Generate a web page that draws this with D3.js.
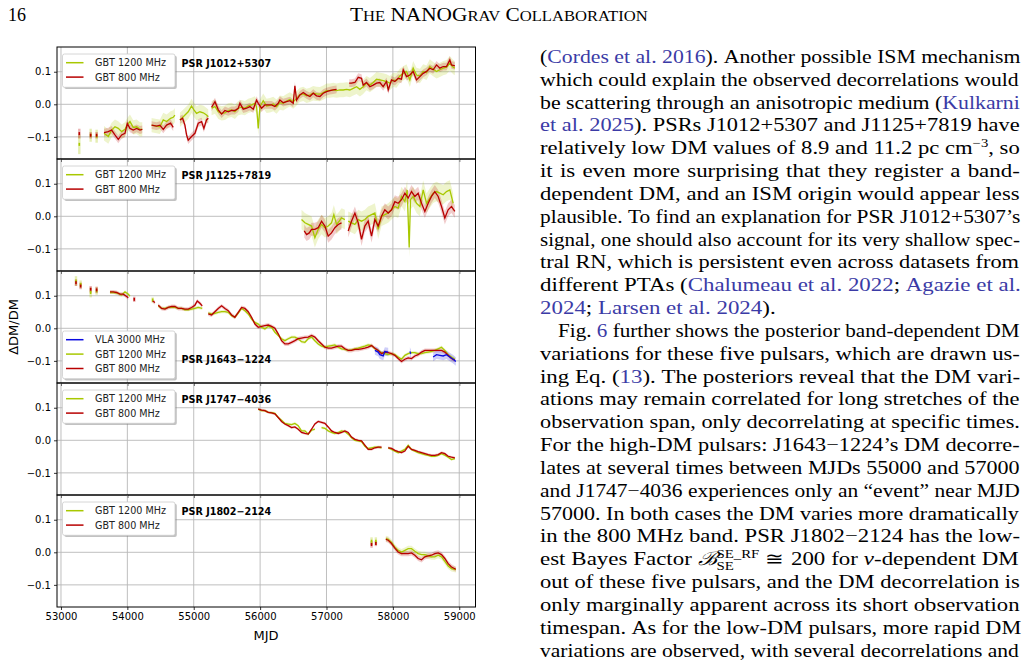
<!DOCTYPE html>
<html>
<head>
<meta charset="utf-8">
<style>
    body { margin:0; background:#fff; }
    .tick text { font-family:"DejaVu Sans", sans-serif; font-size:10px; fill:#000; }
    .tick line { stroke:#000; stroke-width:0.8; }
    .page { font-family:"Liberation Serif", serif; fill:#000; white-space:pre; }
</style>
</head>
<body>
<svg id="page" width="1029" height="670"></svg>
<script src="https://cdn.jsdelivr.net/npm/d3@7"></script>
<script>
// ---- data: [MJD, dDM/DM, (optional error)], null breaks a segment ----
var mjdTicks = [53000, 54000, 55000, 56000, 57000, 58000, 59000];
var dmTicks = [-0.1, 0.0, 0.1];

var j1012_1200 = [
 [53276,-0.123,0.03], null, [53447,-0.095,0.02], null, [53537,-0.098,0.02], null,
 [53648,-0.089],[53713,-0.099],[53763,-0.079],[53813,-0.069],[53863,-0.074],[53914,-0.084],[53964,-0.077],[53999,-0.064],[54039,-0.053],[54089,-0.071],[54140,-0.069],[54190,-0.077],[54225,-0.077], null,
 [54365,-0.064],[54440,-0.067],[54490,-0.069],[54541,-0.048],[54591,-0.053],[54651,-0.043],[54691,-0.040],[54716,-0.033], null,
 [54792,-0.048],[54842,-0.038],[54917,-0.023],[54967,-0.005],[55003,-0.017],[55043,-0.028],[55093,-0.023],[55144,-0.026],[55193,-0.033],[55219,-0.038], null,
 [55269,-0.012],[55320,-0.007],[55370,-0.023],[55420,-0.028],[55470,-0.026],[55520,-0.019],[55570,-0.017],[55620,-0.023],[55671,-0.012],[55721,-0.009],[55771,-0.012],[55821,-0.005],[55871,-0.002],[55922,0.003],[55947,-0.007],[55972,-0.074],[55997,-0.007],[56047,0.011],[56097,-0.005],[56148,-0.003],[56198,0.001],[56248,-0.007],[56298,0.005],[56348,0.003],[56399,0.010],[56449,0.015],[56499,0.008],[56549,0.018],[56599,0.029],[56650,0.032],[56700,0.026],[56750,0.029],[56800,0.034],[56850,0.032],[56901,0.031],[56951,0.036],[57001,0.042],[57051,0.042],[57101,0.044],[57152,0.042],[57202,0.044],[57252,0.044],[57302,0.046],[57352,0.044],[57403,0.049],[57453,0.054],[57503,0.046],[57553,0.054],[57603,0.065],[57654,0.059],[57704,0.067],[57754,0.077],[57804,0.075],[57854,0.073],[57905,0.070],[57955,0.065],[58005,0.075],[58055,0.073],[58105,0.087],[58156,0.095],[58206,0.101],[58256,0.075],[58306,0.111],[58356,0.090],[58407,0.087],[58457,0.101],[58507,0.097],[58557,0.116],[58607,0.108],[58658,0.101],[58708,0.106],[58758,0.111],[58808,0.114],[58858,0.126],[58909,0.114],[58934,0.111]
];
var j1012_800 = [
 [53276,-0.090,0.015], null, [53447,-0.095,0.01], null, [53537,-0.095,0.01], null,
 [53648,-0.087],[53713,-0.084],[53763,-0.079],[53813,-0.094],[53863,-0.108],[53914,-0.094],[53964,-0.089],[53999,-0.059],[54039,-0.074],[54089,-0.079],[54140,-0.074],[54190,-0.079],[54225,-0.077], null,
 [54365,-0.064],[54440,-0.067],[54490,-0.064],[54541,-0.077],[54591,-0.064],[54651,-0.058],[54691,-0.071], null,
 [54792,-0.048],[54832,-0.043],[54867,-0.064],[54892,-0.094],[54917,-0.110],[54967,-0.099],[55018,-0.089],[55068,-0.058],[55118,-0.053],[55153,-0.074],[55193,-0.048],[55219,-0.043], null,
 [55269,-0.009],[55320,0.008],[55370,-0.017],[55420,-0.030],[55470,-0.019],[55520,-0.023],[55570,-0.019],[55620,-0.019],[55671,-0.012],[55696,0.003],[55746,-0.015],[55796,-0.012],[55846,-0.007],[55897,-0.015],[55947,0.013],[55972,0.003],[56022,-0.012],[56072,-0.002],[56122,-0.002],[56173,-0.002],[56223,-0.007],[56273,0.003],[56298,0.013],[56348,0.005],[56399,0.008],[56449,0.011],[56499,0.003],[56524,0.057],[56549,0.013],[56599,0.029],[56650,0.036],[56700,0.029],[56750,0.024],[56800,0.034],[56850,0.026],[56901,0.024],[56951,0.034],[57001,0.039],[57051,0.042],[57101,0.044],[57152,0.046], null,
 [57342,0.065],[57377,0.065],[57428,0.067],[57478,0.083],[57528,0.080],[57553,0.059],[57603,0.067],[57654,0.054],[57704,0.059],[57754,0.065],[57804,0.067],[57854,0.054],[57905,0.070],[57930,0.044],[57980,0.075],[58030,0.070],[58080,0.080],[58130,0.077],[58156,0.106],[58206,0.085],[58256,0.090],[58306,0.101],[58356,0.075],[58407,0.085],[58457,0.095],[58507,0.101],[58557,0.111],[58607,0.106],[58658,0.121],[58708,0.111],[58758,0.116],[58808,0.116],[58858,0.136],[58883,0.121],[58934,0.118]
];

var j1125_1200 = [
 [56624,-0.010],[56675,-0.020],[56725,-0.025],[56775,-0.030],[56825,-0.066],[56875,-0.040],[56926,-0.025],[56976,-0.035],[57026,-0.030],[57076,-0.020],[57111,0.005],[57152,-0.025],[57192,-0.015],[57227,-0.005],[57277,-0.010], null,
 [57327,-0.015],[57377,-0.020],[57428,-0.025],[57478,-0.010],[57528,-0.015],[57578,-0.010],[57628,0.000],[57679,0.005],[57729,0.010],[57779,-0.040],[57829,0.000],[57879,0.005],[57930,0.010],[57980,0.020],[58030,0.030],[58080,0.025],[58130,0.061],[58181,0.045],[58216,0.081],[58246,-0.096],[58266,0.051],[58306,0.061],[58356,0.040],[58407,0.030],[58457,0.081],[58507,0.040],[58557,0.056],[58607,0.071],[58658,0.076],[58708,0.071],[58758,0.066],[58808,0.076],[58858,0.081],[58909,0.040]
];
var j1125_800 = [
 [56665,-0.045],[56700,-0.056],[56740,-0.051],[56775,-0.040],[56825,-0.040],[56875,-0.035],[56926,-0.015],[56976,-0.030],[57026,-0.061],[57076,-0.051],[57126,-0.035],[57177,-0.025],[57227,-0.020], null,
 [57327,-0.045],[57377,-0.015],[57428,0.010],[57478,-0.020],[57528,-0.071],[57578,-0.030],[57628,-0.015],[57679,-0.061],[57729,-0.010],[57779,-0.030],[57829,0.000],[57879,0.020],[57930,0.010],[57980,0.020],[58030,0.045],[58080,0.040],[58130,0.051],[58181,0.071],[58231,0.056],[58281,0.076],[58331,0.061],[58381,0.071],[58432,0.040],[58482,0.015],[58532,0.040],[58582,0.061],[58632,0.076],[58683,0.061],[58733,0.030],[58783,-0.005],[58833,0.020],[58883,0.030],[58934,0.015]
];

var j1643_3000 = [
 [57729,-0.068],[57779,-0.073],[57804,-0.081],[57854,-0.085],[57879,-0.071],[57930,-0.073], null,
 [58256,-0.071],[58271,-0.078], null,
 [58607,-0.088],[58658,-0.081],[58708,-0.083],[58758,-0.085],[58808,-0.081],[58858,-0.088],[58909,-0.095],[58949,-0.102]
];
var j1643_1200 = [
 [53226,0.145,0.015], null, [53296,0.135,0.012], null, [53447,0.110,0.015], null, [53537,0.115,0.012], null,
 [53738,0.110],[53788,0.110],[53848,0.108],[53914,0.102],[53964,0.112],[54014,0.105],[54039,0.099], null,
 [54381,0.087,0.008], null,
 [54466,0.069],[54516,0.061],[54566,0.061],[54616,0.064],[54667,0.064],[54717,0.064],[54767,0.061],[54817,0.061],[54867,0.057],[54918,0.057],[54968,0.059],[55018,0.061],[55068,0.064],[55128,0.061], null,
 [55219,0.047],[55269,0.044],[55319,0.046],[55369,0.049],[55420,0.051],[55470,0.051],[55520,0.049],[55570,0.039],[55620,0.034],[55671,0.047],[55721,0.061],[55771,0.054],[55821,0.044],[55871,0.028],[55922,0.018],[55972,0.013],[56022,0.003],[56072,-0.002],[56122,0.006],[56173,0.003],[56223,-0.012],[56273,-0.022],[56323,-0.032],[56373,-0.038],[56424,-0.032],[56474,-0.027],[56524,-0.027],[56574,-0.032],[56624,-0.041],[56675,-0.043],[56725,-0.032],[56775,-0.027],[56825,-0.038],[56875,-0.048],[56926,-0.055],[56976,-0.058],[57026,-0.055],[57076,-0.053],[57126,-0.051],[57177,-0.058],[57227,-0.063],[57277,-0.065],[57327,-0.068],[57377,-0.066],[57428,-0.063],[57478,-0.061],[57528,-0.058],[57578,-0.055],[57628,-0.051],[57679,-0.053],[57729,-0.063],[57779,-0.068],[57829,-0.075],[57879,-0.078],[57930,-0.081],[57980,-0.078],[58030,-0.081],[58080,-0.088],[58130,-0.095],[58181,-0.083],[58231,-0.078],[58281,-0.075],[58331,-0.075],[58381,-0.078],[58432,-0.078],[58482,-0.075],[58532,-0.073],[58582,-0.071],[58632,-0.068],[58683,-0.063],[58733,-0.058],[58783,-0.068],[58833,-0.081],[58883,-0.088],[58934,-0.095]
];
var j1643_800 = [
 [53226,0.140,0.01], null, [53296,0.130,0.01], null, [53447,0.120,0.01], null, [53537,0.118,0.01], null,
 [53738,0.112],[53788,0.112],[53838,0.110],[53889,0.105],[53939,0.105],[53979,0.099],[54014,0.094], null,
 [54104,0.089,0.008], null,
 [54381,0.084],[54416,0.079], null,
 [54466,0.071],[54516,0.061],[54566,0.059],[54616,0.064],[54667,0.067],[54717,0.067],[54767,0.061],[54817,0.061],[54867,0.059],[54918,0.059],[54968,0.064],[55018,0.071],[55053,0.084],[55093,0.077],[55128,0.069], null,
 [55219,0.044],[55269,0.041],[55319,0.051],[55369,0.061],[55420,0.069],[55470,0.061],[55520,0.054],[55570,0.041],[55620,0.034],[55671,0.049],[55721,0.064],[55771,0.061],[55821,0.051],[55871,0.034],[55922,0.013],[55972,0.003],[56022,0.006],[56072,0.008],[56122,0.010],[56173,0.006],[56223,0.000],[56273,-0.017],[56323,-0.038],[56373,-0.048],[56424,-0.048],[56474,-0.043],[56524,-0.038],[56574,-0.032],[56624,-0.030],[56675,-0.028],[56725,-0.027],[56775,-0.022],[56825,-0.027],[56875,-0.038],[56926,-0.048],[56976,-0.058],[57026,-0.061],[57076,-0.061],[57126,-0.058],[57177,-0.055],[57227,-0.055],[57277,-0.063],[57327,-0.068],[57377,-0.068],[57428,-0.065],[57478,-0.065],[57528,-0.063],[57578,-0.061],[57628,-0.058],[57679,-0.053],[57729,-0.061],[57779,-0.068],[57829,-0.078],[57879,-0.073],[57930,-0.075],[57980,-0.078],[58030,-0.083],[58080,-0.093],[58130,-0.102],[58181,-0.095],[58231,-0.091],[58281,-0.093],[58331,-0.085],[58381,-0.081],[58432,-0.073],[58482,-0.068],[58532,-0.068],[58582,-0.068],[58632,-0.068],[58683,-0.068],[58733,-0.068],[58783,-0.073],[58833,-0.083],[58883,-0.093],[58934,-0.098]
];

var j1747_1200 = [
 [55972,0.096],[56022,0.091],[56072,0.091],[56122,0.086],[56173,0.085],[56223,0.083],[56273,0.070],[56323,0.062],[56373,0.052],[56424,0.050],[56474,0.048],[56524,0.052],[56574,0.045],[56624,0.029],[56675,0.029],[56725,0.019],[56775,0.031],[56825,0.034], null,
 [56926,0.039],[56976,0.037],[57026,0.029],[57076,0.024],[57126,0.021],[57177,0.024],[57227,0.029],[57277,0.027],[57327,0.019],[57377,0.008],[57428,0.000],[57478,-0.002],[57528,-0.004],[57578,-0.018],[57628,-0.025],[57679,-0.023],[57729,-0.021],[57779,-0.021],[57829,-0.023], null,
 [57930,-0.023],[57980,-0.028],[58030,-0.033],[58080,-0.038],[58130,-0.033],[58181,-0.028],[58231,-0.015],[58281,-0.028],[58331,-0.033],[58381,-0.038],[58432,-0.041],[58482,-0.044],[58532,-0.046],[58582,-0.049],[58632,-0.049],[58683,-0.046],[58733,-0.041],[58783,-0.046],[58833,-0.052],[58883,-0.059],[58934,-0.056]
];
var j1747_800 = [
 [55972,0.096],[56022,0.093],[56072,0.091],[56122,0.086],[56173,0.084],[56223,0.081],[56273,0.070],[56323,0.058],[56373,0.050],[56424,0.045],[56474,0.039],[56524,0.041],[56574,0.034],[56624,0.024],[56675,0.021],[56725,0.019],[56775,0.034],[56825,0.050],[56875,0.058],[56926,0.055],[56976,0.052],[57026,0.041],[57076,0.029],[57126,0.024],[57177,0.021],[57227,0.024],[57277,0.029],[57327,0.024],[57377,0.010],[57428,0.003],[57478,0.000],[57528,-0.002],[57578,-0.015],[57628,-0.028],[57679,-0.028],[57729,-0.023],[57779,-0.021],[57829,-0.021], null,
 [57930,-0.023],[57980,-0.025],[58030,-0.031],[58080,-0.035],[58130,-0.038],[58181,-0.033],[58231,-0.018],[58281,-0.028],[58331,-0.031],[58381,-0.035],[58432,-0.038],[58482,-0.041],[58532,-0.044],[58582,-0.046],[58632,-0.046],[58683,-0.044],[58733,-0.038],[58783,-0.041],[58833,-0.049],[58883,-0.052],[58934,-0.054]
];

var j1802_1200 = [
 [57679,0.034,0.012], null, [57744,0.034,0.012], null,
 [57894,0.042],[57930,0.040],[57980,0.030],[58030,0.016],[58080,0.006],[58130,0.001],[58181,0.006],[58231,0.011],[58281,0.011],[58331,0.003],[58381,-0.004],[58432,-0.007],[58482,-0.007],[58532,-0.011],[58582,-0.014],[58632,-0.014],[58683,-0.009],[58733,-0.014],[58783,-0.028],[58833,-0.042],[58883,-0.050],[58949,-0.053]
];
var j1802_800 = [
 [57679,0.024,0.01], null, [57744,0.027,0.008], null,
 [57894,0.040],[57930,0.037],[57980,0.027],[58030,0.013],[58080,0.001],[58130,-0.004],[58181,-0.004],[58231,-0.004],[58281,-0.002],[58331,-0.009],[58381,-0.019],[58432,-0.023],[58482,-0.014],[58532,-0.011],[58582,-0.009],[58632,-0.004],[58683,-0.002],[58733,-0.007],[58783,-0.019],[58833,-0.035],[58883,-0.045],[58949,-0.052]
];

var c1200 = "#a8c800", c800 = "#b80000", c3000 = "#0a0ae0";

var panels = [
  {name:"PSR J1012+5307", legendLow:false, series:[
    {label:"GBT 1200 MHz", data:j1012_1200, color:c1200, err:0.022},
    {label:"GBT 800 MHz", data:j1012_800, color:c800, err:0.012}]},
  {name:"PSR J1125+7819", legendLow:false, series:[
    {label:"GBT 1200 MHz", data:j1125_1200, color:c1200, err:0.03},
    {label:"GBT 800 MHz", data:j1125_800, color:c800, err:0.02}]},
  {name:"PSR J1643\u22121224", legendLow:true, series:[
    {label:"VLA 3000 MHz", data:j1643_3000, color:c3000, err:0.013, top:true},
    {label:"GBT 1200 MHz", data:j1643_1200, color:c1200, err:0.005},
    {label:"GBT 800 MHz", data:j1643_800, color:c800, err:0.006}]},
  {name:"PSR J1747\u22124036", legendLow:false, series:[
    {label:"GBT 1200 MHz", data:j1747_1200, color:c1200, err:0.004},
    {label:"GBT 800 MHz", data:j1747_800, color:c800, err:0.004}]},
  {name:"PSR J1802\u22122124", legendLow:false, series:[
    {label:"GBT 1200 MHz", data:j1802_1200, color:c1200, err:0.009},
    {label:"GBT 800 MHz", data:j1802_800, color:c800, err:0.008}]}
];

// ---- chart ----
var svg = d3.select("#page");
var left = 57, right = 475.5, top0 = 47, panelH = 112;
var x = d3.scaleLinear().domain([52940, 59245]).range([left, right]);

function segments(data){
    var segs=[], cur=[];
    data.forEach(function(d){
        if(d===null){ if(cur.length) segs.push(cur); cur=[]; }
        else cur.push(d);
    });
    if(cur.length) segs.push(cur);
    return segs;
}

panels.forEach(function(p, i){
    var top = top0 + i*panelH;
    var y = d3.scaleLinear().domain([-0.168, 0.176]).range([top+panelH, top]);
    var g = svg.append("g");

    g.append("clipPath").attr("id","clip"+i).append("rect")
        .attr("x",left).attr("y",top).attr("width",right-left).attr("height",panelH);

    // grid
    g.selectAll(".vg").data(mjdTicks).enter().append("line")
        .attr("x1",function(d){return x(d);}).attr("x2",function(d){return x(d);})
        .attr("y1",top).attr("y2",top+panelH)
        .attr("stroke","#b8b8b8").attr("stroke-width",0.9);
    g.selectAll(".hg").data(dmTicks).enter().append("line")
        .attr("x1",left).attr("x2",right)
        .attr("y1",function(d){return y(d);}).attr("y2",function(d){return y(d);})
        .attr("stroke","#b8b8b8").attr("stroke-width",0.9);

    var plot = g.append("g").attr("clip-path","url(#clip"+i+")");
    var ordered = p.series.filter(function(s){return !s.top;}).concat(p.series.filter(function(s){return s.top;}));

    ordered.forEach(function(s){
        var area = d3.area()
            .x(function(d){return x(d[0]);})
            .y0(function(d){return y(d[1]-(d[2]||s.err));})
            .y1(function(d){return y(d[1]+(d[2]||s.err));});
        segments(s.data).forEach(function(seg){
            if(seg.length===1){
                var d = seg[0], e = d[2]||s.err;
                plot.append("rect").attr("x",x(d[0])-1.2).attr("width",2.4)
                    .attr("y",y(d[1]+e)).attr("height",y(d[1]-e)-y(d[1]+e))
                    .attr("fill",s.color).attr("opacity",0.3);
            } else {
                plot.append("path").datum(seg).attr("d",area)
                    .attr("fill",s.color).attr("opacity",0.2);
            }
        });
    });
    ordered.forEach(function(s){
        var line = d3.line().x(function(d){return x(d[0]);}).y(function(d){return y(d[1]);});
        segments(s.data).forEach(function(seg){
            if(seg.length===1){
                var d = seg[0];
                plot.append("rect").attr("x",x(d[0])-0.8).attr("width",1.6)
                    .attr("y",y(d[1])-1.5).attr("height",3).attr("fill",s.color);
            } else {
                plot.append("path").datum(seg).attr("d",line)
                    .attr("fill","none").attr("stroke",s.color).attr("stroke-width",1.3);
            }
        });
    });

    // axes
    var ya = g.append("g").attr("transform","translate("+left+",0)")
        .call(d3.axisLeft(y).tickValues(dmTicks).tickSize(3).tickPadding(3).tickFormat(d3.format(".1f")));
    ya.select(".domain").remove();
    var xa = g.append("g").attr("transform","translate(0,"+(top+panelH)+")")
        .call(d3.axisBottom(x).tickValues(mjdTicks).tickSize(3).tickPadding(3)
            .tickFormat(i===panels.length-1 ? d3.format("d") : ""));
    xa.select(".domain").remove();

    g.append("rect").attr("x",left).attr("y",top).attr("width",right-left).attr("height",panelH)
        .attr("fill","none").attr("stroke","#000").attr("stroke-width",1);

    // legend
    var n = p.series.length, lh = 14.4, bw = 112.5, bh = 4 + n*lh + 0.5;
    var ly = p.legendLow ? top + 60 : top + 7;
    var lg = g.append("g").attr("transform","translate(62.5,"+ly+")");
    lg.append("rect").attr("x",1.8).attr("y",1.8).attr("width",bw).attr("height",bh).attr("rx",2)
        .attr("fill","#777").attr("opacity",0.45);
    lg.append("rect").attr("width",bw).attr("height",bh).attr("rx",2)
        .attr("fill","#fff").attr("stroke","#cccccc").attr("stroke-width",0.8);
    p.series.forEach(function(s, k){
        var cy = 8.7 + k*lh;
        lg.append("line").attr("x1",3.5).attr("x2",21).attr("y1",cy).attr("y2",cy)
            .attr("stroke",s.color).attr("stroke-width",1.5);
        lg.append("text").attr("x",32.5).attr("y",cy).attr("dy","0.36em")
            .attr("font-family","DejaVu Sans").attr("font-size","9.6px").attr("fill","#222")
            .text(s.label);
    });

    g.append("text").attr("x",181.5).attr("y", p.legendLow ? top+91.5 : top+20)
        .attr("font-family","DejaVu Sans").attr("font-size","9.6px").attr("font-weight","bold")
        .text(p.name);
});

svg.append("text").attr("x",266).attr("y",640).attr("text-anchor","middle")
    .attr("font-family","DejaVu Sans").attr("font-size","13px").text("MJD");
svg.append("text").attr("transform","translate(18,327) rotate(-90)").attr("text-anchor","middle")
    .attr("font-family","DejaVu Sans").attr("font-size","13px").text("\u0394DM/DM");

// ---- page text ----
var linkColor = "#3b3ba6";
svg.append("text").attr("class","page").attr("x",8).attr("y",21).attr("font-size","18px").text("16");

var head = svg.append("text").attr("class","page").attr("font-size","18px").attr("text-anchor","start");
[["T",1],["HE",0],[" NANOG",1],["RAV",0],[" C",1],["OLLABORATION",0]].forEach(function(h){
    head.append("tspan").attr("font-size", h[1] ? "18px" : "14px").text(h[0]);
});
var hw = head.node().getBBox().width;
head.attr("transform","translate(350,21) scale("+(298/hw)+",1)");

var textLines = [
 [["("],["Cordes et al. 2016","L"],["). Another possible ISM mechanism"]],
 [["which could explain the observed decorrelations would"]],
 [["be scattering through an anisotropic medium ("],["Kulkarni","L"]],
 [["et al. 2025","L"],["). PSRs J1012+5307 and J1125+7819 have"]],
 [["relatively low DM values of 8.9 and 11.2 pc cm"],["\u22123","sup"],[", so"]],
 [["it is even more surprising that they register a band-"]],
 [["dependent DM, and an ISM origin would appear less"]],
 [["plausible. To find an explanation for PSR J1012+5307\u2019s"]],
 [["signal, one should also account for its very shallow spec-"]],
 [["tral RN, which is persistent even across datasets from"]],
 [["different PTAs ("],["Chalumeau et al. 2022","L"],["; "],["Agazie et al.","L"]],
 [["2024","L"],["; "],["Larsen et al. 2024","L"],[")."]],
 [["Fig. "],["6","L"],[" further shows the posterior band-dependent DM"]],
 [["variations for these five pulsars, which are drawn us-"]],
 [["ing Eq. ("],["13","L"],["). The posteriors reveal that the DM vari-"]],
 [["ations may remain correlated for long stretches of the"]],
 [["observation span, only decorrelating at specific times."]],
 [["For the high-DM pulsars: J1643\u22121224\u2019s DM decorre-"]],
 [["lates at several times between MJDs 55000 and 57000"]],
 [["and J1747\u22124036 experiences only an \u201cevent\u201d near MJD"]],
 [["57000. In both cases the DM varies more dramatically"]],
 [["in the 800 MHz band. PSR J1802\u22122124 has the low-"]],
 [["est Bayes Factor "],["\u212C","it"],["SE_RF","sup"],["SE","sub"],[" \u2245 200 for "],["\u03BD","it"],["-dependent DM"]],
 [["out of these five pulsars, and the DM decorrelation is"]],
 [["only marginally apparent across its short observation"]],
 [["timespan. As for the low-DM pulsars, more rapid DM"]],
 [["variations are observed, with several decorrelations and"]]
];
var textLeft = 540, textW = 480, base0 = 63, lineStep = 22.83;
var raggedLines = [11], indentLines = {12: 18};

// each word and each space is its own tspan; justification adds dx to the spaces
textLines.forEach(function(parts, li){
    var indent = indentLines[li] || 0;
    var t = svg.append("text").attr("class","page").attr("font-size","18.5px").attr("x",0).attr("y",0);
    var toks = [], sup = null, sub = null, after = null, raised = false;
    parts.forEach(function(pt){
        var pieces = (pt[1]==="sup" || pt[1]==="sub") ? [pt[0]]
            : pt[0].split(/( )/).filter(function(q){return q.length;});
        pieces.forEach(function(q, qi){
            var ts = t.append("tspan").text(q);
            var tok = {ts:ts, sp:q===" ", dx:0};
            if(pt[1]==="L") ts.attr("fill",linkColor);
            if(pt[1]==="it") ts.attr("font-style","italic");
            if(qi===0){
                if(pt[1]==="sup"){ ts.attr("font-size","12px").attr("dy",-7.5); sup = tok; raised = true; }
                else if(pt[1]==="sub"){ ts.attr("font-size","12px").attr("dy",12); sub = tok; raised = "sub"; }
                else if(raised){ ts.attr("dy", raised==="sub" ? -4.5 : 7.5); after = tok; raised = false; }
            }
            toks.push(tok);
        });
    });
    if(sup && sub){
        var sw = sup.ts.node().getComputedTextLength(), bw2 = sub.ts.node().getComputedTextLength();
        sub.dx = -sw;
        if(after) after.dx = Math.max(0, sw-bw2);
    }
    toks.forEach(function(k){ if(k.dx) k.ts.attr("dx",k.dx); });
    var w = t.node().getBBox().width;
    var nSp = toks.filter(function(k){return k.sp;}).length;
    var target = textW - indent, s = 1.24, ws = 0;
    if(raggedLines.indexOf(li) < 0){
        if(w*s > target){ s = target/w; }
        else { ws = (target/s - w)/nSp; }
    }
    toks.forEach(function(k){ if(k.sp) k.ts.attr("dx", k.dx + ws); });
    t.attr("transform","translate("+(textLeft+indent)+","+(base0+li*lineStep)+") scale("+s+",1)");
});
</script>
</body>
</html>
